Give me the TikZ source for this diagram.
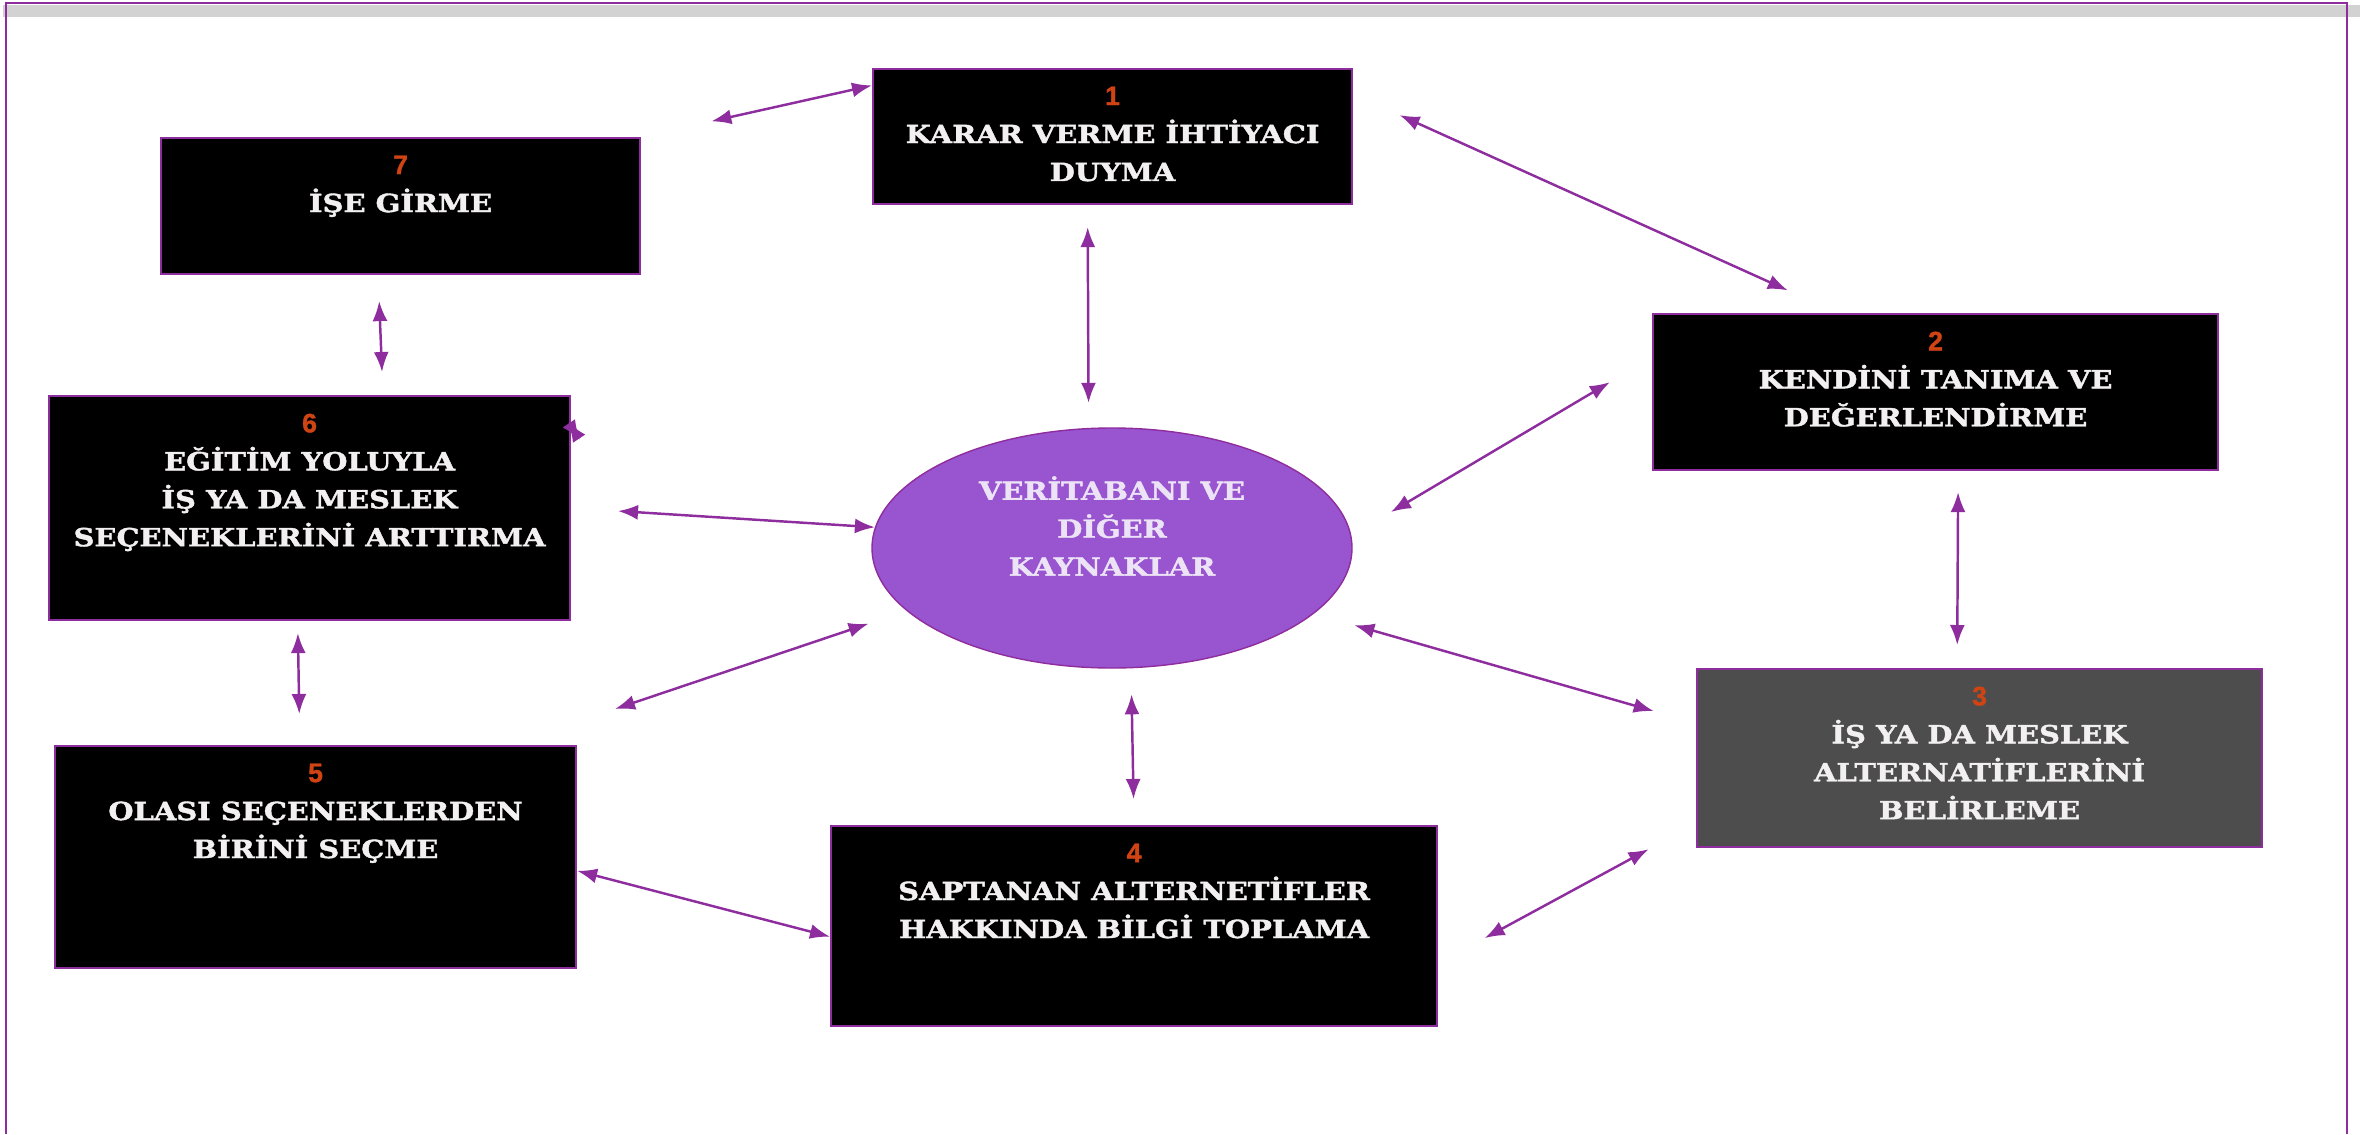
\documentclass[tikz,border=0pt]{standalone}
\usepackage{fontspec}
\usepackage{tikz}
\usetikzlibrary{shapes.geometric}
\usetikzlibrary{arrows.meta}
\newfontfamily\stepFont[FakeStretch=1.16,BoldFeatures={FakeBold=1.6}]{DejaVu Serif}
\newfontfamily\nrFont[BoldFeatures={FakeBold=1.2}]{Liberation Sans}
\definecolor{linkPurple}{RGB}{142,45,158}
\definecolor{hubPurple}{RGB}{153,84,208}
\definecolor{nrRed}{RGB}{208,68,20}
\definecolor{boxGrey}{RGB}{77,77,77}
\definecolor{txtWhite}{RGB}{242,240,240}
\definecolor{hubTxt}{RGB}{236,228,246}

\begin{document}
\begin{tikzpicture}[x=1cm,y=-1cm]
 \newcommand{\stepNr}[1]{{\color{nrRed}\nrFont\bfseries\fontsize{7.6}{10.8}\selectfont #1}}
	\tikzset{stepbox/.style = {rectangle,draw=linkPurple,line width=0.6pt,fill=black,anchor=north west,inner sep=0pt}}
	\tikzset{steptext/.style = {anchor=north,align=center,inner sep=0.18cm,text=txtWhite,font=\stepFont\bfseries\fontsize{7.1}{10.8}\selectfont}}
	\tikzset{hub/.style = {ellipse,draw=linkPurple,line width=0.4pt,fill=hubPurple,minimum width=4.8cm,minimum height=2.4cm,inner sep=0pt}}
	\tikzset{hubtext/.style = {anchor=center,align=center,inner sep=0pt,text=hubTxt,font=\stepFont\bfseries\fontsize{7.1}{10.8}\selectfont}}
	\tikzstyle{link} = [<->,> = {Latex[length=0.2cm,width=0.15cm]},draw=linkPurple,line width=0.7pt]
	\useasboundingbox (0,0) rectangle (23.64,11.34);
	%frame
	\fill[gray!35] (0.03,0.05) rectangle (23.60,0.17);
	\draw[linkPurple,line width=0.6pt] (0.06,11.34) -- (0.06,0.03) -- (23.47,0.03) -- (23.47,11.34);
	%steps
	\node[stepbox,minimum width=4.79cm,minimum height=1.35cm,label={[steptext]north:\stepNr{1}\\KARAR VERME İHTİYACI\\DUYMA}] (b1) at (8.72,0.68) {};
	\node[stepbox,minimum width=5.65cm,minimum height=1.56cm,label={[steptext]north:\stepNr{2}\\KENDİNİ TANIMA VE\\DEĞERLENDİRME}] (b2) at (16.52,3.13) {};
	\node[stepbox,fill=boxGrey,minimum width=5.65cm,minimum height=1.78cm,label={[steptext]north:\stepNr{3}\\İŞ YA DA MESLEK\\ALTERNATİFLERİNİ\\BELİRLEME}] (b3) at (16.96,6.68) {};
	\node[stepbox,minimum width=6.06cm,minimum height=2.00cm,label={[steptext]north:\stepNr{4}\\SAPTANAN ALTERNETİFLER\\HAKKINDA BİLGİ TOPLAMA}] (b4) at (8.30,8.25) {};
	\node[stepbox,minimum width=5.21cm,minimum height=2.22cm,label={[steptext]north:\stepNr{5}\\OLASI SEÇENEKLERDEN\\BİRİNİ SEÇME}] (b5) at (0.54,7.45) {};
	\node[stepbox,minimum width=5.21cm,minimum height=2.24cm,label={[steptext]north:\stepNr{6}\\EĞİTİM YOLUYLA\\İŞ YA DA MESLEK\\SEÇENEKLERİNİ ARTTIRMA}] (b6) at (0.48,3.95) {};
	\node[stepbox,minimum width=4.79cm,minimum height=1.36cm,label={[steptext]north:\stepNr{7}\\İŞE GİRME}] (b7) at (1.60,1.37) {};
	%centre
	\node[hub,label={[hubtext,yshift=0.22cm]center:VERİTABANI VE\\DİĞER\\KAYNAKLAR}] (ell) at (11.12,5.48) {};
	\coordinate (gap) at (6.15,7.09);
	\coordinate (tickA) at (5.68,4.22);
	\coordinate (tickB) at (5.80,4.40);
	%links
	\draw[link,shorten <=0.72cm] (b7.north east) -- (b1.168.5);
	\draw[link,shorten <=0.51cm,shorten >=0.55cm] (b1.10.3) -- (b2.141.9);
	\draw[link,shorten <=0.22cm,shorten >=0.25cm] (b1.250.2) -- (ell.101.6);
	\draw[link,shorten <=0.26cm,shorten >=0.23cm] (b7.252.5) -- (b6.57.6);
	\draw[link,shorten <=0.47cm] (b6.east) -- (ell.175.7);
	\draw[link,shorten <=0.46cm,shorten >=0.49cm] (ell.3) -- (b2.173);
	\draw[link,shorten <=0.21cm,shorten >=0.23cm] (b2.286.3) -- (b3.104);
	\draw[link,shorten <=0.42cm,shorten >=0.44cm] (ell.342.2) -- (b3.173.9);
	\draw[link,shorten >=0.40cm] (gap) -- (ell.197.8);
	\draw[link,shorten <=0.12cm,shorten >=0.31cm] (b6.264.3) -- (b5.98.7);
	\draw[link,shorten <=0.26cm,shorten >=0.26cm] (ell.279.3) -- (b4.north);
	\draw[link] (b5.357.8) -- (b4.182.4);
	\draw[link,shorten <=0.53cm,shorten >=0.54cm] (b4.353.5) -- (b3.193.5);
	\draw[link] (tickA) -- (tickB);
\end{tikzpicture}
\end{document}
